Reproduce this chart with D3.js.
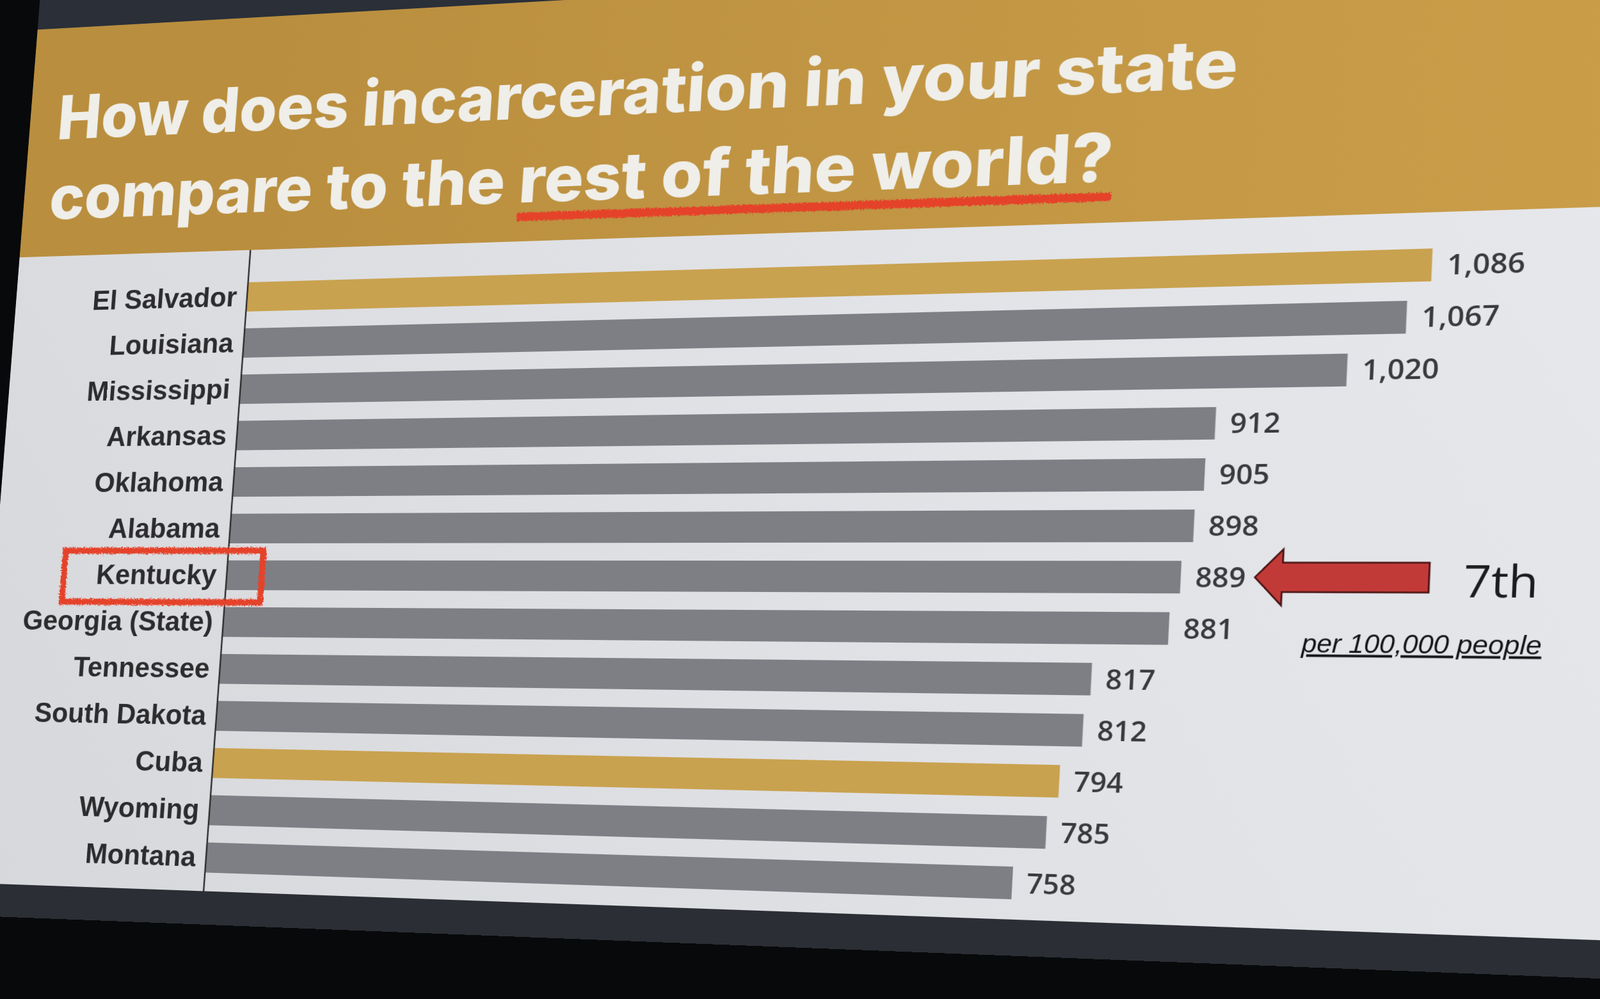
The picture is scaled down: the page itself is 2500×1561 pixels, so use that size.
<!DOCTYPE html>
<html>
<head>
<meta charset="utf-8">
<script src="https://cdn.jsdelivr.net/npm/d3@7"></script>
<style>
  html, body { margin: 0; padding: 0; background: #08090b; overflow: hidden; }
  #photo { position: absolute; left: 0; top: 0; width: 2500px; height: 1561px; overflow: hidden; background: #08090b; }
  #slide { position: absolute; left: 0; top: 0; transform-origin: 0 0; }
</style>
</head>
<body>
<div id="photo"><svg id="slide"></svg></div>
<script>
// incarceration rate per 100,000 people
var categories = ["El Salvador", "Louisiana", "Mississippi", "Arkansas", "Oklahoma", "Alabama",
                  "Kentucky", "Georgia (State)", "Tennessee", "South Dakota", "Cuba", "Wyoming", "Montana"];
var rates = [1086, 1067, 1020, 912, 905, 898, 889, 881, 817, 812, 794, 785, 758];
var countries = ["El Salvador", "Cuba"];   // drawn gold, the rest are US states
var marked = "Kentucky";
var rankLabel = "7th";
var unitLabel = "per 100,000 people";
var titleTop = "How does incarceration in your state";
var titleStart = "compare to the";
var titleEnd = "rest of the world?";

var W = 3000, H = 1800,
    ox = 480, oy = 560,      // axis / top of first bar on the flat slide
    plotH = 935;

var x = d3.scaleLinear().domain([0, 1100]).range([0, 1782]);
var y = d3.scaleBand().domain(categories).range([0, plotH]).paddingInner(0.365);
var bw = y.bandwidth();
var fmt = d3.format(",");
var yc = function(c) { return y(c) + bw / 2; };

// where the first and last bar centres land in the photo (camera calibration)
var camera = [
  [[x(0), yc(categories[0])], [386, 464]],
  [[x(rates[0]), yc(categories[0])], [2238, 414]],
  [[x(0), yc(categories[12])], [322, 1340]],
  [[x(rates[12]), yc(categories[12])], [1582, 1380]]
];

function homography(pairs) {
  var A = [], b = [];
  pairs.forEach(function(p) {
    var sx = p[0][0] + ox, sy = p[0][1] + oy, dx = p[1][0], dy = p[1][1];
    A.push([sx, sy, 1, 0, 0, 0, -sx * dx, -sy * dx]); b.push(dx);
    A.push([0, 0, 0, sx, sy, 1, -sx * dy, -sy * dy]); b.push(dy);
  });
  var n = 8, r, c, k, t;
  for (c = 0; c < n; c++) {
    var piv = c;
    for (r = c + 1; r < n; r++) if (Math.abs(A[r][c]) > Math.abs(A[piv][c])) piv = r;
    t = A[c]; A[c] = A[piv]; A[piv] = t; t = b[c]; b[c] = b[piv]; b[piv] = t;
    for (r = c + 1; r < n; r++) {
      var f = A[r][c] / A[c][c];
      for (k = c; k < n; k++) A[r][k] -= f * A[c][k];
      b[r] -= f * b[c];
    }
  }
  var h = [];
  for (c = n - 1; c >= 0; c--) {
    var s = b[c];
    for (k = c + 1; k < n; k++) s -= A[c][k] * h[k];
    h[c] = s / A[c][c];
  }
  return h;
}

var h = homography(camera);
var svg = d3.select("#slide")
    .attr("width", W)
    .attr("height", H)
    .style("transform", "matrix3d(" + [h[0], h[3], 0, h[6], h[1], h[4], 0, h[7], 0, 0, 1, 0, h[2], h[5], 0, 1].join(",") + ")");

var defs = svg.append("defs");
var gg = defs.append("linearGradient").attr("id", "gold").attr("gradientUnits", "userSpaceOnUse")
    .attr("x1", 0).attr("y1", 0).attr("x2", W).attr("y2", 0);
gg.append("stop").attr("offset", "0").attr("stop-color", "#b98e3e");
gg.append("stop").attr("offset", "1").attr("stop-color", "#d2a54e");
var wg = defs.append("linearGradient").attr("id", "paper").attr("gradientUnits", "userSpaceOnUse")
    .attr("x1", 0).attr("y1", H).attr("x2", W).attr("y2", 0);
wg.append("stop").attr("offset", "0").attr("stop-color", "#d6d7da");
wg.append("stop").attr("offset", "0.5").attr("stop-color", "#e2e3e7");
wg.append("stop").attr("offset", "1").attr("stop-color", "#eaebef");
var rough = defs.append("filter").attr("id", "rough")
    .attr("x", "-10%").attr("y", "-60%").attr("width", "120%").attr("height", "220%");
rough.append("feTurbulence").attr("type", "fractalNoise").attr("baseFrequency", 0.45)
    .attr("numOctaves", 2).attr("seed", 4).attr("result", "n");
rough.append("feDisplacementMap").attr("in", "SourceGraphic").attr("in2", "n")
    .attr("scale", 8).attr("xChannelSelector", "R").attr("yChannelSelector", "G");

var g = svg.append("g").attr("transform", "translate(" + ox + "," + oy + ")");

// screen bezel, slide, title band
g.append("rect").attr("x", -395).attr("y", -530).attr("width", 2900).attr("height", 100).attr("fill", "#2a2f38");
g.append("rect").attr("x", -395).attr("y", -430).attr("width", 2900).attr("height", plotH + 460)
    .attr("fill", "url(#paper)");
g.append("rect").attr("x", -395).attr("y", -430).attr("width", 2900).attr("height", 378)
    .attr("fill", "url(#gold)");
g.append("rect").attr("x", -395).attr("y", plotH + 29).attr("width", 2900).attr("height", 52)
    .attr("fill", "#2b2e34");

// title
var title = g.append("g").attr("fill", "#efeee9")
    .style("font-family", "Inter, Lato, 'Open Sans', sans-serif").style("font-weight", 800);
title.append("text").attr("x", -347).attr("y", -245).attr("font-size", 100)
    .attr("textLength", 1832).attr("lengthAdjust", "spacingAndGlyphs").text(titleTop);
title.append("text").attr("x", -350).attr("y", -113).attr("font-size", 100)
    .attr("textLength", 758).attr("lengthAdjust", "spacingAndGlyphs").text(titleStart);
title.append("text").attr("x", 430).attr("y", -113).attr("font-size", 100)
    .attr("textLength", 887).attr("lengthAdjust", "spacingAndGlyphs").text(titleEnd);
g.append("rect").attr("x", 430).attr("y", -97).attr("width", 887).attr("height", 13)
    .attr("fill", "#e5432b").attr("filter", "url(#rough)");

// bars
g.selectAll("rect.bar")
  .data(categories)
  .enter().append("rect")
    .attr("class", "bar")
    .attr("x", x(0))
    .attr("y", function(d) { return y(d); })
    .attr("width", function(d, i) { return x(rates[i]) - x(0); })
    .attr("height", bw)
    .attr("fill", function(d) { return countries.indexOf(d) >= 0 ? "#c9a24f" : "#7e7f84"; });

g.selectAll("text.value")
  .data(categories)
  .enter().append("text")
    .attr("class", "value")
    .attr("x", function(d, i) { return x(rates[i]) + 20; })
    .attr("y", function(d) { return yc(d); })
    .attr("dy", "0.36em")
    .attr("font-size", 40)
    .style("font-family", "'Open Sans', sans-serif").style("font-weight", 600)
    .attr("fill", "#3a3a3c")
    .text(function(d, i) { return fmt(rates[i]); });

// category axis
var axis = g.append("g")
    .call(d3.axisLeft(y).tickSize(0).tickPadding(17));
axis.select(".domain").remove();
axis.selectAll("text")
    .attr("font-size", 45)
    .attr("fill", "#2c2c2e")
    .style("font-family", "'Liberation Sans', Arial, sans-serif")
    .style("font-weight", 700);
g.append("line").attr("x1", 0).attr("x2", 0).attr("y1", -52).attr("y2", plotH + 29)
    .attr("stroke", "#2a2a2a").attr("stroke-width", 2.5);

// highlight on the chosen state
var ky = yc(marked), kx = x(rates[categories.indexOf(marked)]);
g.append("rect").attr("x", -275).attr("y", ky - 39).attr("width", 333).attr("height", 82)
    .attr("fill", "none").attr("stroke", "#e5432b").attr("stroke-width", 10).attr("filter", "url(#rough)");

var tip = kx + 101;
g.append("path")
    .attr("d", "M" + tip + "," + ky + "L" + (tip + 37) + "," + (ky - 40) + "L" + (tip + 37) + "," + (ky - 21)
      + "L" + (tip + 232) + "," + (ky - 21) + "L" + (tip + 232) + "," + (ky + 21) + "L" + (tip + 37) + "," + (ky + 21)
      + "L" + (tip + 37) + "," + (ky + 40) + "Z")
    .attr("fill", "#c23a38").attr("stroke", "#4a1414").attr("stroke-width", 2.5);

g.append("text").attr("x", kx + 378).attr("y", ky + 28).attr("font-size", 63)
    .style("font-family", "'Open Sans', sans-serif").style("font-weight", 400)
    .attr("fill", "#1c1c1e").text(rankLabel);
g.append("text").attr("x", kx + 168).attr("y", ky + 107).attr("font-size", 36.5)
    .style("font-family", "'Liberation Sans', sans-serif").style("font-style", "italic")
    .style("text-decoration", "underline")
    .attr("fill", "#141416").text(unitLabel);
</script>
</body>
</html>
